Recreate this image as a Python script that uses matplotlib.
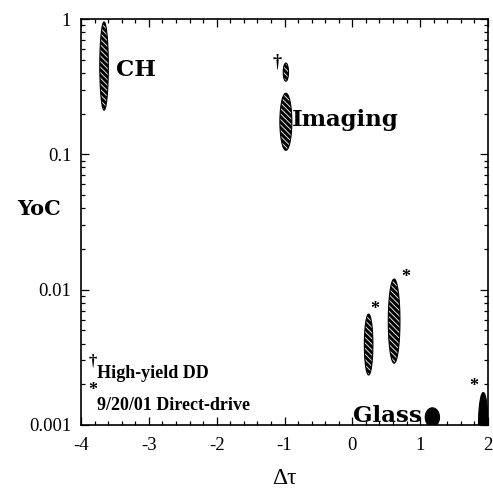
import numpy as np
import matplotlib
matplotlib.use("Agg")
import matplotlib.pyplot as plt
from matplotlib.ticker import FixedLocator, NullFormatter

plt.rcParams['font.family'] = ['Liberation Serif', 'DejaVu Serif']
plt.rcParams['axes.unicode_minus'] = False
plt.rcParams['hatch.linewidth'] = 0.6

# Measurement regions: centre (dtau, YoC), half-width in dtau, half-height in decades
names = ["CH", "HighYieldDD", "Imaging", "DD_a", "DD_b", "Glass", "DD_c"]
dtau_c = [-3.66, -0.98, -0.98, 0.24, 0.616, 1.18, 1.93]
yoc_c = [0.449, 0.405, 0.174, 0.00393, 0.00586, 0.00114, 0.001]
half_w = [0.063, 0.039, 0.088, 0.063, 0.086, 0.105, 0.07]
half_dec = [0.326, 0.067, 0.211, 0.225, 0.311, 0.07, 0.24]
hatched = [True, True, True, True, True, False, False]

# Footnote marks beside the regions: (dtau, YoC, symbol)
marks_x = [-1.113, 0.336, 0.781, 1.791]
marks_y = [0.4836, 0.00708, 0.0122, 0.00192]
marks_s = ["\u2020", "*", "*", "*"]

# Region labels
labels = ["CH", "Imaging", "Glass"]
labels_x = [-3.48, -0.893, 0.01]
labels_y = [0.379, 0.162, 0.001057]

xticks = [-4, -3, -2, -1, 0, 1, 2]
xticklabels = ["-4", "-3", "-2", "-1", "0", "1", "2"]
yticks = [1e-3, 1e-2, 1e-1, 1]
yticklabels = ["0.001", "0.01", "0.1", "1"]

fig = plt.figure(figsize=(4.93, 4.93), dpi=100)
ax = fig.add_axes([81/493, 68/493, 407/493, 406/493])
ax.set_yscale('log')
ax.set_xlim(-4, 2)
ax.set_ylim(1e-3, 1)

t = np.linspace(0, 2*np.pi, 200)
for cx, cy, hw, hd, h in zip(dtau_c, yoc_c, half_w, half_dec, hatched):
    xs = cx + hw*np.cos(t)
    ys = 10**(np.log10(cy) + hd*np.sin(t))
    if h:
        ax.fill(xs, ys, facecolor='black', edgecolor='white', hatch='\\\\\\\\\\\\', linewidth=0, zorder=2)
        ax.fill(xs, ys, facecolor='none', edgecolor='black', linewidth=0.8, zorder=3)
    else:
        ax.fill(xs, ys, facecolor='black', edgecolor='black', linewidth=0.8, zorder=2)

for mx, my, ms in zip(marks_x, marks_y, marks_s):
    ax.text(mx, my, ms, fontsize=13, fontweight='bold', ha='center', va='center')

for lab, lx, ly in zip(labels, labels_x, labels_y):
    ax.text(lx, ly, lab, fontsize=16.5, fontweight='bold', ha='left', va='baseline',
            family='DejaVu Serif')

# Footnote legend
ax.text(0.030, 0.157, "\u2020", transform=ax.transAxes, fontsize=12, fontweight='bold', ha='center', va='center')
ax.text(0.039, 0.115, "High-yield DD", transform=ax.transAxes, fontsize=13, fontweight='bold', ha='left', va='baseline')
ax.text(0.029, 0.085, "*", transform=ax.transAxes, fontsize=13, fontweight='bold', ha='center', va='center')
ax.text(0.039, 0.037, "9/20/01 Direct-drive", transform=ax.transAxes, fontsize=13, fontweight='bold', ha='left', va='baseline')

ax.xaxis.set_major_locator(FixedLocator(xticks))
ax.set_xticklabels(xticklabels)
ax.xaxis.set_minor_locator(FixedLocator(np.arange(-4, 2.01, 0.2)))
ax.set_yticks(yticks)
ax.set_yticklabels(yticklabels)
minor_y = [m*10.0**e for e in (-3, -2, -1) for m in range(2, 10)]
ax.yaxis.set_minor_locator(FixedLocator(minor_y))
ax.yaxis.set_minor_formatter(NullFormatter())

ax.tick_params(which='both', direction='in', top=True, right=True, labelsize=13.5, width=0.9)
ax.tick_params(which='major', length=6)
ax.tick_params(which='minor', length=3)
ax.tick_params(axis='x', pad=9)
ax.tick_params(axis='y', pad=7)
for s in ax.spines.values():
    s.set_linewidth(1.2)

fig.text(39/493, 1 - 209/493, "YoC", fontsize=15, fontweight='bold', ha='center', va='center',
         family='DejaVu Serif')
fig.text(284/493, 1 - 478/493, "\u0394\u03c4", fontsize=17, ha='center', va='center')

fig.savefig("out.png", dpi=100)
